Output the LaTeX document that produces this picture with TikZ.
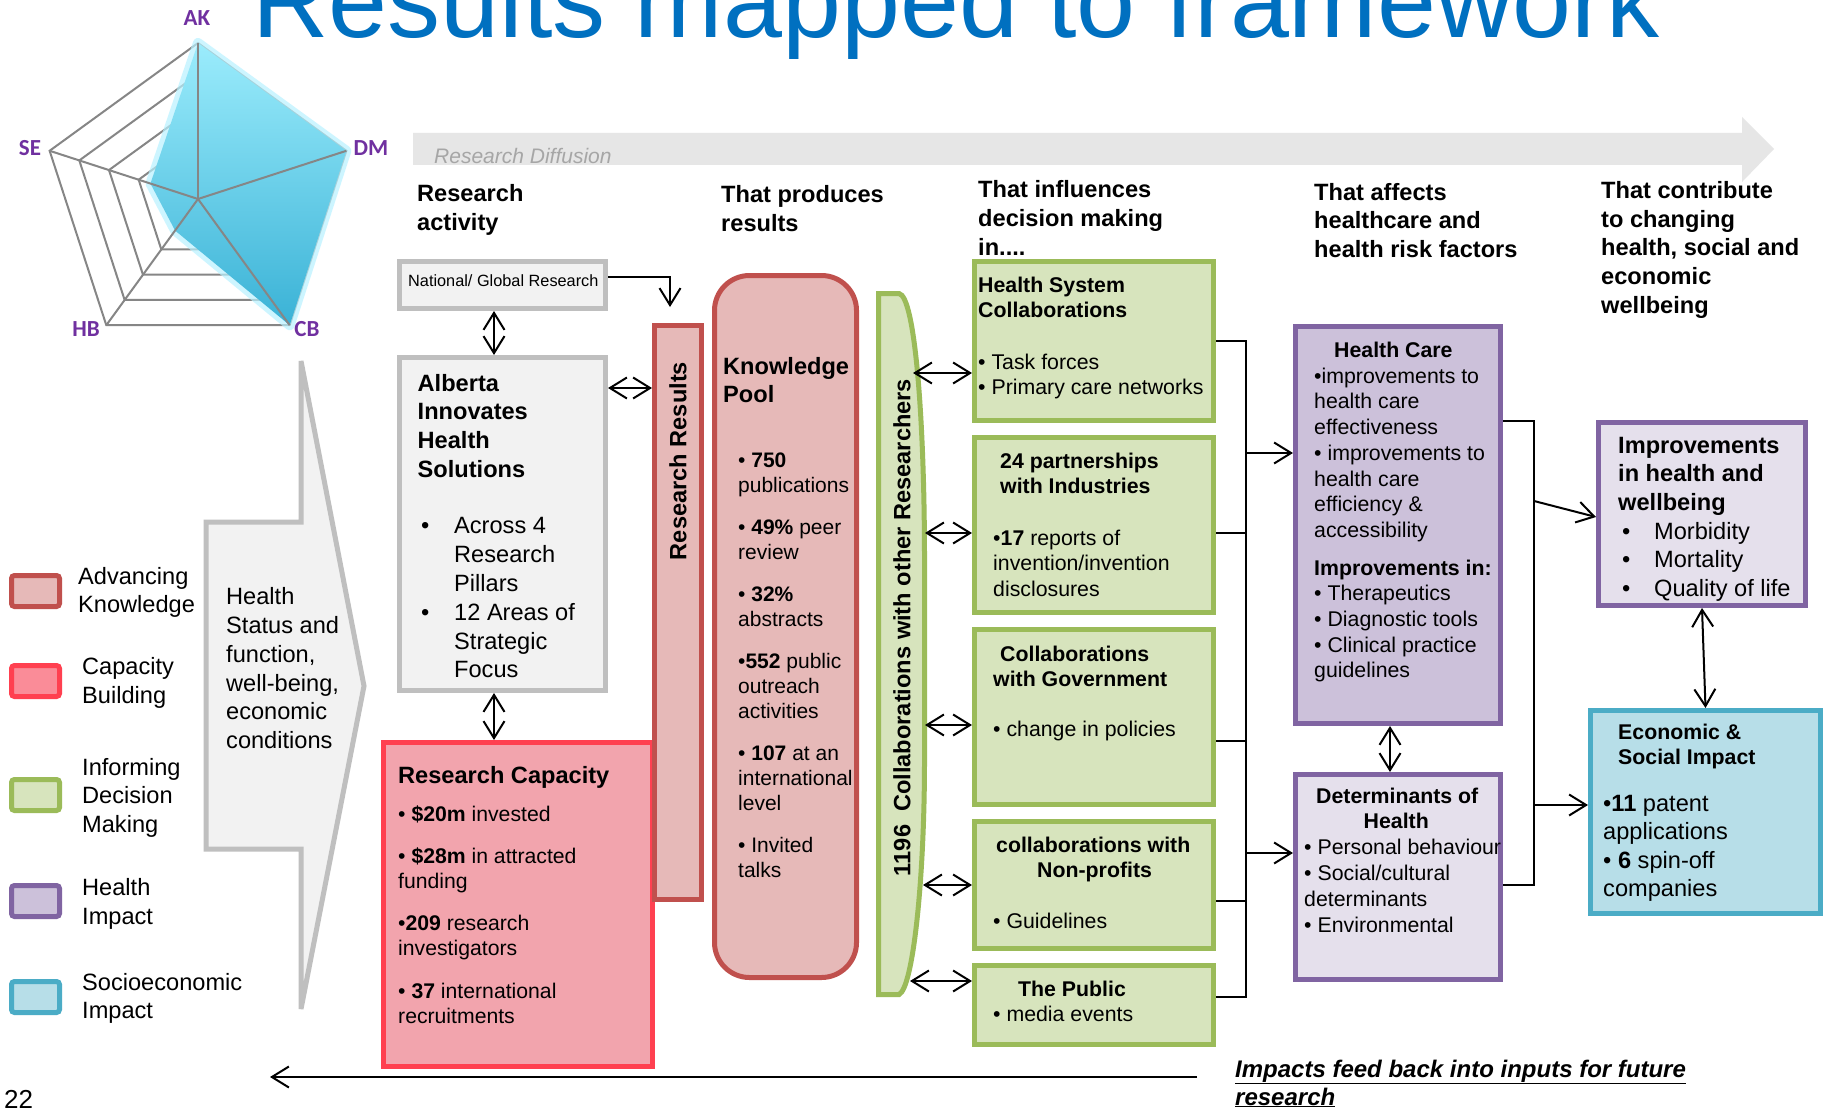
\documentclass[tikz,border=0pt]{standalone}
\usepackage{fontspec}
\setmainfont{Liberation Sans}
\newfontfamily\radarfont{Carlito}
\usetikzlibrary{arrows.meta,positioning}

\definecolor{titleblue}{RGB}{0,112,192}
\definecolor{akpurple}{RGB}{112,48,160}
\definecolor{gridgray}{RGB}{134,134,134}
\definecolor{boxgray}{RGB}{191,191,191}
\definecolor{fillgray}{RGB}{242,242,242}
\definecolor{bargray}{RGB}{230,230,230}
\definecolor{diffgray}{RGB}{166,166,166}
\definecolor{akred}{RGB}{192,80,77}
\definecolor{akfill}{RGB}{230,185,184}
\definecolor{cbred}{RGB}{255,64,80}
\definecolor{cbfill}{RGB}{242,164,173}
\definecolor{cbleg}{RGB}{250,140,152}
\definecolor{dmgreen}{RGB}{155,187,89}
\definecolor{dmfill}{RGB}{215,228,189}
\definecolor{hipurple}{RGB}{128,100,162}
\definecolor{hifill}{RGB}{204,193,218}
\definecolor{hilight}{RGB}{229,224,236}
\definecolor{seteal}{RGB}{75,172,198}
\definecolor{sefill}{RGB}{183,222,232}
\definecolor{radartop}{RGB}{155,236,252}
\definecolor{radarbot}{RGB}{58,178,214}
\definecolor{radarglow}{RGB}{185,242,255}

\begin{document}
\begin{tikzpicture}[x=1pt,y=-1pt,
	panel/.style={draw,line width=5pt,anchor=north west,inner sep=0pt},
	greenbox/.style={panel,draw=dmgreen,fill=dmfill,minimum width=239pt},
	legendbox/.style={panel,rounded corners=3pt,minimum width=48pt,minimum height=31pt},
	txt/.style={anchor=base west,inner sep=0pt,align=left},
	smalltext/.style={txt,font=\fontsize{21.3}{25.5}\selectfont},
	bigtext/.style={txt,font=\fontsize{23.6}{28.8}\selectfont},
	hdr/.style={txt,font=\fontsize{23.6}{28.7}\selectfont\bfseries},
	radarline/.style={draw=gridgray,line width=2pt},
	radarlabel/.style={font=\radarfont\bfseries\fontsize{23}{23}\selectfont,text=akpurple},
	conn/.style={line width=2pt},
	>={Straight Barb[length=17pt,width=21pt]}]

	\useasboundingbox (0,0) rectangle (1825,1110);
	\fill[white] (0,0) rectangle (1825,1110);
	\clip (0,0) rectangle (1825,1110);

	\node[txt,font=\fontsize{106}{110}\selectfont,text=titleblue] (title) at (252,38) {Results mapped to framework};

	\begin{scope}[shift={(198,199)}]
		\foreach \r in {31.2,62.4,93.6,124.8,156}
			\draw[radarline] (-90:\r) -- (-18:\r) -- (54:\r) -- (126:\r) -- (198:\r) -- cycle;
		\draw[line width=10pt,radarglow,line join=round,opacity=.7] (-90:156) -- (-18:156) -- (54:156) -- (126:39) -- (198:50) -- cycle;
		\shade[top color=radartop,bottom color=radarbot] (-90:156) -- (-18:156) -- (54:156) -- (126:39) -- (198:50) -- cycle;
		\foreach \a in {-90,-18,54,126,198}
			\draw[radarline] (0,0) -- (\a:156);
	\end{scope}
	\node[radarlabel] (lak) at (197,18) {AK};
	\node[radarlabel] (ldm) at (371,148) {DM};
	\node[radarlabel] (lcb) at (307,329) {CB};
	\node[radarlabel] (lhb) at (86,329) {HB};
	\node[radarlabel] (lse) at (30,148) {SE};

	\fill[bargray] (413,133) -- (1742,133) -- (1742,117) -- (1774,149) -- (1742,182) -- (1742,165) -- (413,165) -- cycle;
	\node[txt,font=\fontsize{21}{21}\selectfont\itshape,text=diffgray] (diffusion) at (434,164) {Research Diffusion};

	\node[hdr] (hdrone) at (417,230.7) {Research\\activity};
	\node[hdr] (hdrtwo) at (721,231.7) {That produces\\results};
	\node[hdr] (hdrthree) at (978,255.4) {That influences\\decision making\\in....};
	\node[hdr] (hdrfour) at (1314,257.4) {That affects\\healthcare and\\health risk factors};
	\node[hdr] (hdrfive) at (1601,313.3) {That contribute\\to changing\\health, social and\\economic\\wellbeing};

	\node[panel,draw=boxgray,fill=fillgray,minimum width=206pt,minimum height=47pt] (nat) at (397,259) {};
	\node[panel,draw=boxgray,fill=fillgray,minimum width=206pt,minimum height=333pt,below=44pt of nat.south west,anchor=north west] (aihs) {};
	\node[panel,draw=cbred,fill=cbfill,minimum width=269pt,minimum height=324pt] (rescap) at (381,740) {};
	\node[panel,draw=akred,fill=akfill,minimum width=47pt,minimum height=574pt] (resres) at (652,323) {};
	\node[panel,draw=akred,fill=akfill,rounded corners=35pt,minimum width=142pt,minimum height=702pt] (kpool) at (712,273) {};

	\node[txt,font=\fontsize{16.3}{18}\selectfont] (natlabel) at (408,286) {National/ Global Research};
	\node[bigtext] (aihslabel) at (417.5,677.9) {\textbf{Alberta}\\ \textbf{Innovates}\\ \textbf{Health}\\ \textbf{Solutions}\\[27.7pt]
		\hspace*{3.5pt}\makebox[33pt][l]{•}Across 4\\ \hspace*{36.5pt}Research\\ \hspace*{36.5pt}Pillars\\
		\hspace*{3.5pt}\makebox[33pt][l]{•}12 Areas of\\ \hspace*{36.5pt}Strategic\\ \hspace*{36.5pt}Focus};
	\node[txt,font=\fontsize{21.2}{25}\selectfont] (rescaplabel) at (398,1023.1) {{\fontsize{23.6}{28}\selectfont\textbf{Research Capacity}}\\[12.4pt]
		• \textbf{\$20m} invested\\[17pt]
		• \textbf{\$28m} in attracted\\ funding\\[17.5pt]
		•\textbf{209} research\\ investigators\\[17.6pt]
		• \textbf{37} international\\ recruitments};
	\node[rotate=90,font=\fontsize{23.6}{28}\selectfont\bfseries] (reslabel) at (678,461) {Research Results};
	\node[hdr] (kptitle) at (723,402.7) {Knowledge\\Pool};
	\node[txt,font=\fontsize{21}{25}\selectfont] (kplist) at (738,877.4) {• \textbf{750}\\ publications\\[17pt]
		• \textbf{49\%} peer\\ review\\[17pt]
		• \textbf{32\%}\\ abstracts\\[17pt]
		•\textbf{552} public\\ outreach\\ activities\\[17pt]
		• \textbf{107} at an\\ international\\ level\\[17pt]
		• Invited\\ talks};

	\filldraw[draw=dmgreen,fill=dmfill,line width=5pt] (878.5,293.5) -- (899,293.5) .. controls (915,296) and (924.5,420) .. (924.5,560) -- (924.5,760) .. controls (924.5,880) and (913,988) .. (899,994.5) -- (878.5,994.5) -- cycle;
	\node[rotate=90,font=\fontsize{23.6}{28}\selectfont\bfseries] (collablabel) at (902,627.5) {1196\ \ Collaborations with other Researchers};
	\coordinate (cb1) at (913,373);
	\coordinate (cb2) at (925,533);
	\coordinate (cb3) at (925,725);
	\coordinate (cb4) at (923,885);
	\coordinate (cb5) at (910,981);

	\node[greenbox,minimum height=159pt] (hsc) at (972,259) {};
	\node[greenbox,minimum height=175pt,below=12pt of hsc.south west,anchor=north west] (ind) {};
	\node[greenbox,minimum height=175pt,below=12pt of ind.south west,anchor=north west] (gov) {};
	\node[greenbox,minimum height=127pt,below=12pt of gov.south west,anchor=north west] (npo) {};
	\node[greenbox,minimum height=79pt,below=12pt of npo.south west,anchor=north west] (pub) {};

	\node[smalltext] (hsclabel) at (978,394.5) {\textbf{Health System}\\ \textbf{Collaborations}\\[26pt] • Task forces\\ • Primary care networks};
	\node[smalltext] (indlabel) at (993,596) {\hspace*{7pt}\textbf{24 partnerships}\\ \hspace*{7pt}\textbf{with Industries}\\[26pt] •\textbf{17} reports of\\ invention/invention\\ disclosures};
	\node[smalltext] (govlabel) at (993,736) {\hspace*{7pt}\textbf{Collaborations}\\ \textbf{with Government}\\[24pt] • change in policies};
	\node[smalltext] (npolabel) at (993,928.5) {\hspace*{3pt}\textbf{collaborations with}\\ \hspace*{44pt}\textbf{Non-profits}\\[25.5pt] • Guidelines};
	\node[smalltext] (publabel) at (993,1021.5) {\hspace*{25pt}\textbf{The Public}\\ • media events};

	\node[panel,draw=hipurple,fill=hifill,minimum width=205pt,minimum height=397pt] (hc) at (1293,324) {};
	\node[panel,draw=hipurple,fill=hilight,minimum width=205pt,minimum height=205pt,below=46pt of hc.south west,anchor=north west] (det) {};
	\node[panel,draw=hipurple,fill=hilight,minimum width=207pt,minimum height=183pt] (imp) at (1596,420) {};
	\node[panel,draw=seteal,fill=sefill,minimum width=230pt,minimum height=203pt] (econ) at (1588,708) {};

	\node[txt,font=\fontsize{21.3}{25.7}\selectfont] (hclabel) at (1314,677.9) {\hspace*{20pt}\textbf{Health Care}\\ •improvements to\\ health care\\ effectiveness\\
		• improvements to\\ health care\\ efficiency \&\\ accessibility\\[12pt]
		\textbf{Improvements in:}\\ • Therapeutics\\ • Diagnostic tools\\ • Clinical practice\\ guidelines};
	\node[txt,font=\fontsize{21.3}{25.8}\selectfont] (detlabel) at (1304,932) {\hspace*{12pt}\textbf{Determinants of}\\ \hspace*{59.5pt}\textbf{Health}\\
		• Personal behaviour\\ • Social/cultural\\ determinants\\ • Environmental};
	\node[txt,font=\fontsize{23.6}{28.7}\selectfont] (implabel) at (1618,596.5) {\textbf{Improvements}\\ \textbf{in health and}\\ \textbf{wellbeing}\\
		\hspace*{4pt}\makebox[32pt][l]{•}Morbidity\\ \hspace*{4pt}\makebox[32pt][l]{•}Mortality\\ \hspace*{4pt}\makebox[32pt][l]{•}Quality of life};
	\node[txt,font=\fontsize{21.3}{25}\selectfont\bfseries] (econtitle) at (1618,764) {Economic \&\\ Social Impact};
	\node[txt,font=\fontsize{23.6}{28.5}\selectfont] (econlist) at (1603,896.5) {•\textbf{11} patent\\ applications\\ • \textbf{6} spin-off\\ companies};

	\draw[boxgray,line width=5pt,fill=fillgray] (206,522) -- (301,522) -- (301,361) -- (364,686) -- (301,1009) -- (301,849) -- (206,849) -- cycle;
	\node[bigtext] (statuslabel) at (226,748.6) {Health\\Status and\\function,\\well-being,\\economic\\conditions};

	\node[legendbox,draw=akred,fill=akfill] (legak) at (9,573) {};
	\node[legendbox,draw=cbred,fill=cbleg] (legcb) at (9,663) {};
	\node[legendbox,draw=dmgreen,fill=dmfill] (legdm) at (9,777) {};
	\node[legendbox,draw=hipurple,fill=hifill] (leghi) at (9,883) {};
	\node[legendbox,draw=seteal,fill=sefill] (legse) at (9,979) {};
	\node[bigtext] (legaklabel) at (78,612.8) {Advancing\\Knowledge};
	\node[bigtext] (legcblabel) at (82,703.5) {Capacity\\Building};
	\node[bigtext] (legdmlabel) at (82,832.6) {Informing\\Decision\\Making};
	\node[bigtext] (leghilabel) at (82,924.5) {Health\\Impact};
	\node[bigtext] (legselabel) at (82,1018.8) {Socioeconomic\\Impact};

	\draw[conn,->] ([yshift=8pt]nat.east) -| ([xshift=-8pt,yshift=16pt]resres.north);
	\draw[conn,<->] ([xshift=-8.5pt]nat.south) -- ([xshift=-8.5pt]aihs.north);
	\draw[conn,<->] (aihs.east |- 0,388) -- (resres.west |- 0,388);
	\draw[conn,<->] ([xshift=-8.5pt]aihs.south) -- ([xshift=-8.5pt]aihs.south |- rescap.north);

	\draw[conn,<->] (cb1) -- (cb1 -| hsc.west);
	\draw[conn,<->] (cb2) -- (cb2 -| ind.west);
	\draw[conn,<->] (cb3) -- (cb3 -| gov.west);
	\draw[conn,<->] (cb4) -- (cb4 -| npo.west);
	\draw[conn,<->] (cb5) -- (cb5 -| pub.west);

	\coordinate (jt) at (1246,341);
	\coordinate (jb) at (1246,997);
	\draw[conn] (hsc.east |- jt) -- (jt) -- (jb) -- (pub.east |- jb);
	\draw[conn] (ind.east |- 0,533) -- (jt |- 0,533);
	\draw[conn] (gov.east |- 0,741) -- (jt |- 0,741);
	\draw[conn] (npo.east |- 0,901) -- (jt |- 0,901);
	\draw[conn,->] (jt |- 0,453) -- (hc.west |- 0,453);
	\draw[conn,->] (jt |- 0,853) -- (det.west |- 0,853);
	\draw[conn,<->] ([xshift=-8pt]hc.south) -- ([xshift=-8pt]det.north);

	\coordinate (kt) at (1534,421);
	\coordinate (kb) at (1534,885);
	\draw[conn] (hc.east |- kt) -- (kt) -- (kb) -- (det.east |- kb);
	\draw[conn,->] (kt |- 0,501) -- ([yshift=-3pt]imp.west);
	\draw[conn,->] (kt |- 0,805) -- (econ.west |- 0,805);
	\draw[conn,<->] (imp.south) -- (econ.north);

	\node[txt,font=\fontsize{24}{28}\selectfont\bfseries\itshape] (feedback) at (1235,1105) {\underline{Impacts feed back into inputs for future}\\ \underline{research}};
	\coordinate (fbtail) at (1197,1077);
	\coordinate (fbhead) at (270,1077);
	\draw[conn,->] (fbtail) -- (fbhead);

	\node[txt,font=\fontsize{26}{26}\selectfont] (pagenum) at (4,1108) {22};
\end{tikzpicture}
\end{document}
